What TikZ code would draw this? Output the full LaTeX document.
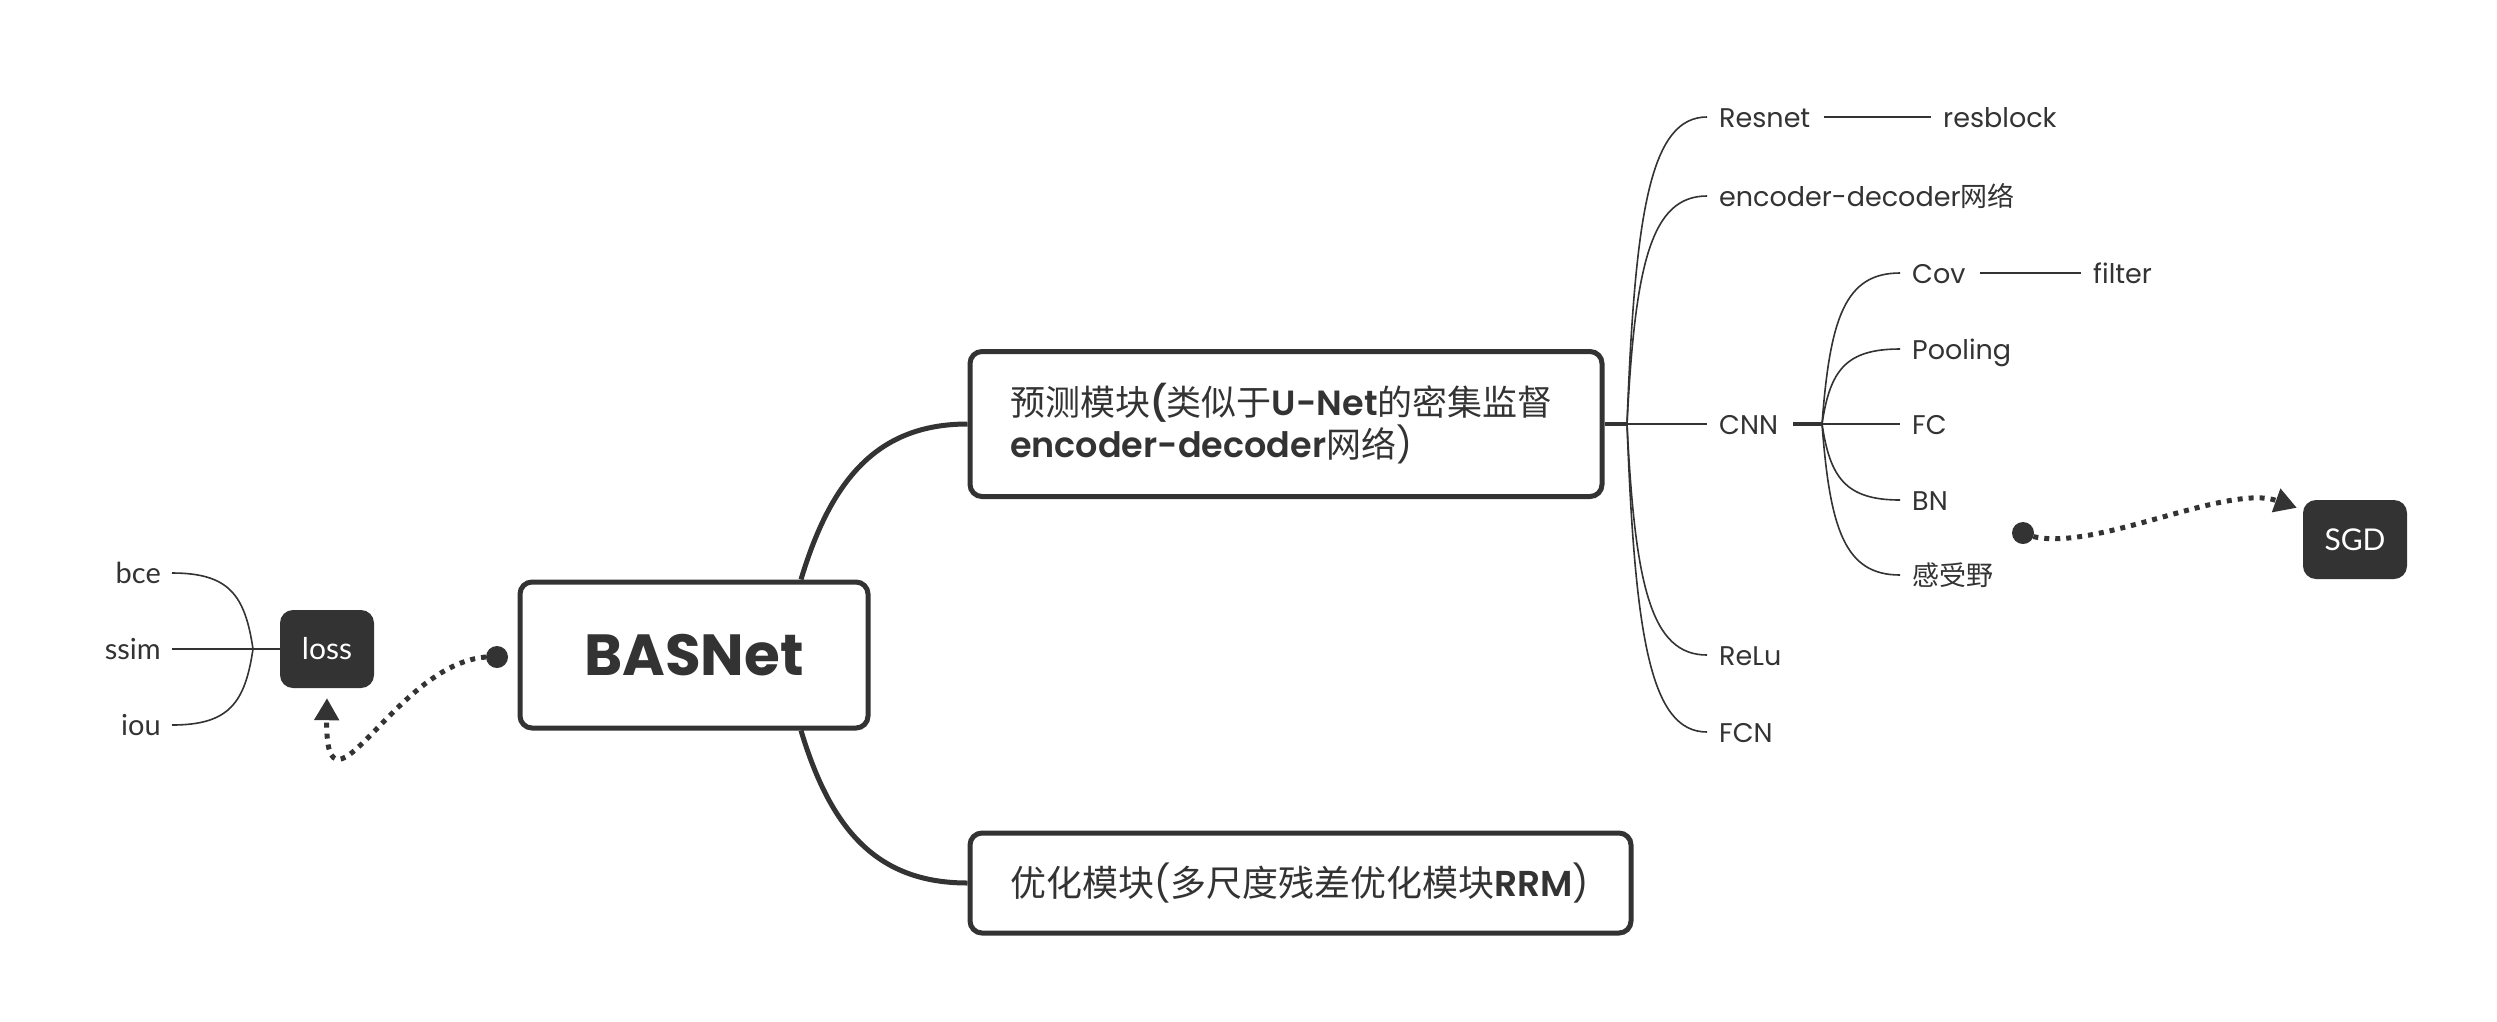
\documentclass[tikz,border=0pt]{standalone}
\usepackage{fontspec}
\setmainfont{Poppins}[BoldFont={* SemiBold}]
\newfontfamily\basf{Poppins}[UprightFont={* Bold}]
\newfontfamily\latof{Lato}
\newfontfamily\cjkf{Noto Sans CJK SC}
\usetikzlibrary{arrows.meta,calc}
\definecolor{ink}{HTML}{333333}
\newcommand\zh[1]{{\cjkf #1}}
\begin{document}
\begin{tikzpicture}[x=1pt,y=-1pt,
  every node/.style={text=ink},
  mainbox/.style={draw=ink, line width=5pt, rounded corners=12pt, fill=white, inner sep=0pt},
  leaf/.style={font=\fontsize{27}{32}\selectfont, inner sep=0pt, text height=20pt, text depth=0pt, anchor=west},
  lleaf/.style={font=\latof\fontsize{29}{34}\selectfont, inner sep=0pt, text height=20pt, text depth=0pt, anchor=east},
  darkbox/.style={fill=ink, rounded corners=13pt, text=white, font=\latof\fontsize{30}{34}\selectfont, inner sep=0pt},
  branch/.style={draw=ink, line width=1.6pt},
  stub/.style={draw=ink, line width=3.5pt},
  mainlink/.style={draw=ink, line width=5pt},
  rel/.style={draw=ink, line width=5pt, dash pattern=on 5pt off 6pt},
  reltip/.style={-{Triangle[length=22pt,width=24pt]}}
]
\fill[white] (0,0) rectangle (2497,1021);
\useasboundingbox (0,0) rectangle (2497,1021);

% central and main boxes
\node[mainbox, minimum width=348pt, minimum height=146pt, font=\basf\fontsize{58}{62}\selectfont] (bas) at (694,655) {BASNet};
\node[mainbox, minimum width=632pt, minimum height=145pt, text width=552pt, align=left, font=\fontsize{35}{42}\selectfont] (pred) at (1286,424)
  {\mbox{\zh{预测模块}\textbf{(}\zh{类似于}\textbf{U-Net}\zh{的密集监督}}\\\mbox{\textbf{encoder-decoder}\zh{网络})}};
\node[mainbox, minimum width=661pt, minimum height=100pt, text width=581pt, align=left, font=\fontsize{36}{42}\selectfont] (opt) at (1300.5,883)
  {\mbox{\zh{优化模块}(\zh{多尺度残差优化模块}\textbf{RRM})}};

\draw[mainlink] ([xshift=107pt]bas.north) .. controls +(30,-100) and +(-90,0) .. (pred.west);
\draw[mainlink] ([xshift=107pt]bas.south) .. controls +(30,100) and +(-90,0) .. (opt.west);

% right subtree
\coordinate (j1) at (1627,424);
\coordinate (j3) at (1822,424);
\node[leaf] (resnet) at (1719,117) {Resnet};
\node[leaf] (resblock) at (1943,117) {resblock};
\node[leaf] (encdec) at (1719,196) {encoder-decoder\zh{网络}};
\node[leaf] (cnn) at (1719,424) {CNN};
\node[leaf] (cov) at (1912,273) {Cov};
\node[leaf] (filter) at (2093,273) {filter};
\node[leaf] (pool) at (1912,349) {Pooling};
\node[leaf] (fc) at (1912,424) {FC};
\node[leaf] (bn) at (1912,500) {BN};
\node[leaf] (rf) at (1912,575) {\zh{感受野}};
\node[leaf] (relu) at (1719,655) {ReLu};
\node[leaf] (fcn) at (1719,732) {FCN};

\draw[stub] (pred.east) -- (j1);
\draw[branch] (j1) .. controls +(8,-215) and +(-56,0) .. ([xshift=-12pt]resnet.west);
\draw[branch] (j1) .. controls +(8,-160) and +(-56,0) .. ([xshift=-12pt]encdec.west);
\draw[branch] (j1) -- ([xshift=-12pt]cnn.west);
\draw[branch] (j1) .. controls +(8,162) and +(-56,0) .. ([xshift=-12pt]relu.west);
\draw[branch] (j1) .. controls +(8,216) and +(-56,0) .. ([xshift=-12pt]fcn.west);
\draw[branch] ([xshift=13pt]resnet.east) -- ([xshift=-12pt]resblock.west);

\draw[stub] ([xshift=15pt]cnn.east) -- (j3);
\draw[branch] (j3) .. controls +(8,-106) and +(-55,0) .. ([xshift=-12pt]cov.west);
\draw[branch] (j3) .. controls +(8,-53) and +(-55,0) .. ([xshift=-12pt]pool.west);
\draw[branch] (j3) -- ([xshift=-12pt]fc.west);
\draw[branch] (j3) .. controls +(8,53) and +(-55,0) .. ([xshift=-12pt]bn.west);
\draw[branch] (j3) .. controls +(8,106) and +(-55,0) .. ([xshift=-12pt]rf.west);
\draw[branch] ([xshift=14pt]cov.east) -- ([xshift=-12pt]filter.west);

% left subtree
\node[darkbox, minimum width=94pt, minimum height=78pt] (loss) at (327,649) {loss};
\node[lleaf] (bce) at (161,573) {bce};
\node[lleaf] (ssim) at (161,649) {ssim};
\node[lleaf] (iou) at (161,725) {iou};
\coordinate (j2) at (253,649);
\draw[branch] ([xshift=11pt]bce.east) .. controls +(57,0) and +(-8,-54) .. (j2);
\draw[branch] ([xshift=11pt]iou.east) .. controls +(57,0) and +(-8,54) .. (j2);
\draw[branch] ([xshift=11pt]ssim.east) -- (loss.west);

% SGD
\node[darkbox, minimum width=104pt, minimum height=79pt] (sgd) at (2355,539.5) {SGD};

% relationships
\coordinate (d1) at (497,657);
\coordinate (d2) at (2023,533);
\draw[rel, reltip] (d1) .. controls (400,650) and (325,840) .. ([yshift=-10pt]loss.south);
\draw[rel, reltip] (d2) .. controls (2080,560) and (2225,482) .. ([xshift=-6pt,yshift=-8pt]sgd.north west);
\fill[ink] (d1) circle (11pt);
\fill[ink] (d2) circle (11pt);
\end{tikzpicture}
\end{document}
